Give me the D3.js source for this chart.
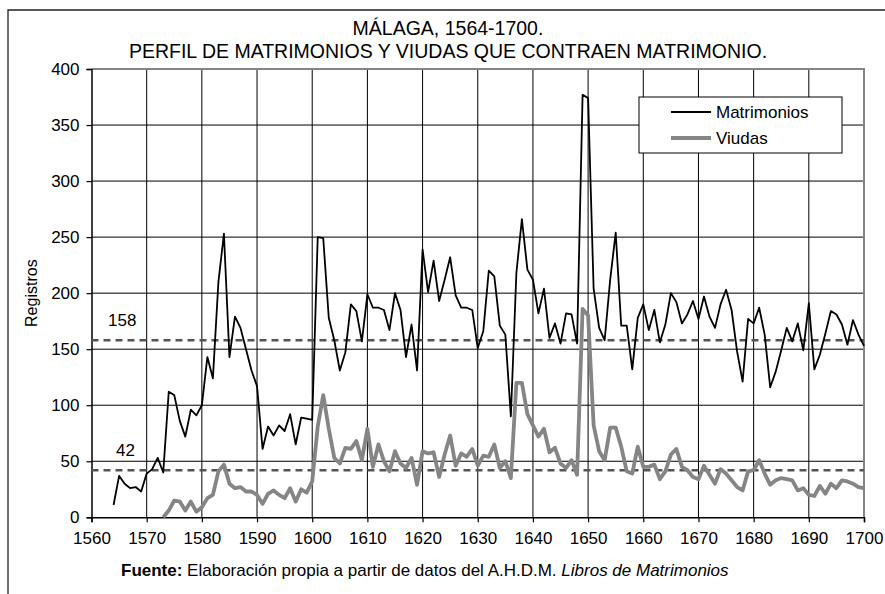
<!DOCTYPE html>
<html>
<head>
<meta charset="utf-8">
<script src="https://cdn.jsdelivr.net/npm/d3@7"></script>
<style>
    body { margin: 0; background: #fff; }
    text { font-family: "Liberation Sans", Arial, sans-serif; fill: #000; }
</style>
</head>
<body>
<svg id="chart" width="885" height="594"></svg>
<script>
// Data.
const START_MATRIMONIOS = 1564;
const START_VIUDAS = 1573;

const matrimonios = [
    11, 37, 30, 26, 27, 23,
    39, 43, 53, 40, 112, 109, 86, 72, 96, 91,
    100, 143, 124, 210, 253, 143, 179, 169, 150, 131,
    117, 61, 81, 73, 82, 77, 92, 65, 89, 88,
    87, 250, 249, 178, 158, 131, 147, 190, 184, 157,
    199, 187, 187, 185, 167, 200, 185, 143, 172, 131,
    239, 201, 229, 193, 212, 232, 198, 187, 187, 185,
    151, 166, 220, 215, 171, 163, 90, 218, 266, 221,
    212, 182, 204, 160, 173, 155, 182, 181, 155, 377,
    374, 204, 169, 158, 212, 254, 171, 171, 132, 178,
    190, 167, 185, 156, 172, 200, 192, 173, 181, 193,
    177, 197, 179, 169, 190, 203, 185, 148, 121, 177,
    173, 187, 163, 116, 130, 149, 169, 157, 173, 149,
    191, 132, 145, 164, 184, 181, 172, 154, 176, 163,
    153
];

const viudas = [
    0, 6, 15, 14, 6, 14, 5,
    9, 17, 20, 41, 47, 30, 26, 27, 23, 23,
    20, 12, 21, 24, 20, 17, 26, 14, 25, 22,
    32, 81, 109, 79, 53, 48, 62, 61, 68, 51,
    79, 45, 65, 50, 41, 59, 48, 44, 53, 29,
    59, 57, 58, 36, 56, 73, 46, 57, 54, 61,
    46, 55, 54, 65, 44, 50, 35, 120, 120, 92,
    82, 72, 79, 58, 62, 48, 44, 51, 38, 186,
    180, 82, 59, 51, 80, 80, 63, 41, 39, 63,
    45, 45, 47, 34, 41, 56, 61, 45, 42, 36,
    34, 46, 38, 30, 43, 39, 33, 27, 24, 41,
    42, 51, 39, 29, 33, 35, 34, 33, 24, 26,
    20, 19, 28, 21, 30, 26, 33, 32, 30, 27,
    26
];

// Mean lines.
const medias = [158, 42];
const mediaLabels = ['158', '42'];

const yTicks = d3.range(0, 401, 50);
const xTicks = d3.range(1560, 1701, 10);

const titulo = ['MÁLAGA, 1564-1700.', 'PERFIL DE MATRIMONIOS Y VIUDAS QUE CONTRAEN MATRIMONIO.'];

// Layout.
const PLOT = {left: 91.5, right: 864, top: 69, bottom: 517.3};
const GRAY = '#858585';

const svg = d3.select('#chart');

const x = d3.scaleLinear().domain([1560, 1700]).range([PLOT.left, PLOT.right]);
const y = d3.scaleLinear().domain([0, 400]).range([PLOT.bottom, PLOT.top]);

// Outer frame (left and top edges only are visible).
svg.append('path')
    .attr('d', `M8,594V10H885`)
    .attr('fill', 'none')
    .attr('stroke', '#222')
    .attr('stroke-width', 1.3);

// Title.
svg.append('g')
    .selectAll('text')
    .data(titulo)
    .join('text')
    .attr('x', 448)
    .attr('y', (d, i) => 35 + i * 23)
    .attr('text-anchor', 'middle')
    .style('font-size', '19.5px')
    .text(d => d);

// Grid.
const grid = svg.append('g').attr('class', 'grid');
grid.selectAll('line.h')
    .data(yTicks.filter(d => d > 0 && d < 400))
    .join('line')
    .attr('class', 'h')
    .attr('x1', PLOT.left).attr('x2', PLOT.right)
    .attr('y1', d => y(d)).attr('y2', d => y(d))
    .attr('stroke', '#000').attr('stroke-width', 1);
grid.selectAll('line.v')
    .data(xTicks.filter(d => d > 1560 && d < 1700))
    .join('line')
    .attr('class', 'v')
    .attr('x1', d => x(d)).attr('x2', d => x(d))
    .attr('y1', PLOT.top).attr('y2', PLOT.bottom)
    .attr('stroke', '#000').attr('stroke-width', 1);

// Plot border (top and right, gray).
svg.append('path')
    .attr('d', `M${PLOT.left},${PLOT.top}H${PLOT.right}V${PLOT.bottom}`)
    .attr('fill', 'none')
    .attr('stroke', GRAY)
    .attr('stroke-width', 2);

// Axes.
const yAxis = svg.append('g')
    .attr('transform', `translate(${PLOT.left},0)`)
    .call(d3.axisLeft(y).tickValues(yTicks).tickSize(5).tickPadding(7));
const xAxis = svg.append('g')
    .attr('transform', `translate(0,${PLOT.bottom})`)
    .call(d3.axisBottom(x).tickValues(xTicks).tickSize(5).tickPadding(10).tickFormat(d3.format('d')));
[yAxis, xAxis].forEach(a => {
    a.selectAll('path.domain').attr('stroke', '#000').attr('stroke-width', 1.5);
    a.selectAll('.tick line').attr('stroke', '#000').attr('stroke-width', 1.2);
    a.selectAll('text')
        .style('font-size', '17px')
        .style('font-family', '"Liberation Sans", Arial, sans-serif')
        .attr('fill', '#000');
});

// Y axis title.
svg.append('text')
    .attr('transform', `translate(37,${(PLOT.top + PLOT.bottom) / 2}) rotate(-90)`)
    .attr('text-anchor', 'middle')
    .style('font-size', '16px')
    .text('Registros');

// Mean dashed lines.
svg.append('g')
    .selectAll('line')
    .data(medias)
    .join('line')
    .attr('x1', PLOT.left).attr('x2', PLOT.right)
    .attr('y1', d => y(d)).attr('y2', d => y(d))
    .attr('stroke', '#555')
    .attr('stroke-width', 2.5)
    .attr('stroke-dasharray', '7,5');
svg.append('g')
    .selectAll('text')
    .data(medias)
    .join('text')
    .attr('x', (d, i) => i === 0 ? 108 : 116)
    .attr('y', d => y(d) - 14)
    .style('font-size', '17px')
    .text((d, i) => mediaLabels[i]);

// Series.
const line = start => d3.line()
    .x((d, i) => x(start + i))
    .y(d => y(d));

svg.append('path')
    .datum(matrimonios)
    .attr('d', line(START_MATRIMONIOS))
    .attr('fill', 'none')
    .attr('stroke', '#000')
    .attr('stroke-width', 1.8)
    .attr('stroke-linejoin', 'round');

svg.append('path')
    .datum(viudas)
    .attr('d', line(START_VIUDAS))
    .attr('fill', 'none')
    .attr('stroke', GRAY)
    .attr('stroke-width', 3.8)
    .attr('stroke-linejoin', 'round');

// Legend.
const legendItems = [
    {name: 'Matrimonios', color: '#000', width: 1.8},
    {name: 'Viudas', color: GRAY, width: 3.8}
];
const legend = svg.append('g').attr('transform', 'translate(639,97)');
legend.append('rect')
    .attr('width', 203).attr('height', 56)
    .attr('fill', '#fff')
    .attr('stroke', '#000')
    .attr('stroke-width', 1);
const item = legend.selectAll('g.item')
    .data(legendItems)
    .join('g')
    .attr('class', 'item')
    .attr('transform', (d, i) => `translate(0,${15 + i * 26})`);
item.append('line')
    .attr('x1', 32).attr('x2', 72)
    .attr('stroke', d => d.color)
    .attr('stroke-width', d => d.width);
item.append('text')
    .attr('x', 77)
    .attr('dy', '0.36em')
    .style('font-size', '17px')
    .text(d => d.name);

// Source note.
const fuente = svg.append('text')
    .attr('x', 121)
    .attr('y', 576)
    .style('font-size', '17px');
fuente.append('tspan').style('font-weight', 'bold').text('Fuente:');
fuente.append('tspan').text(' Elaboración propia a partir de datos del A.H.D.M. ');
fuente.append('tspan').style('font-style', 'italic').text('Libros de Matrimonios');
</script>
</body>
</html>
